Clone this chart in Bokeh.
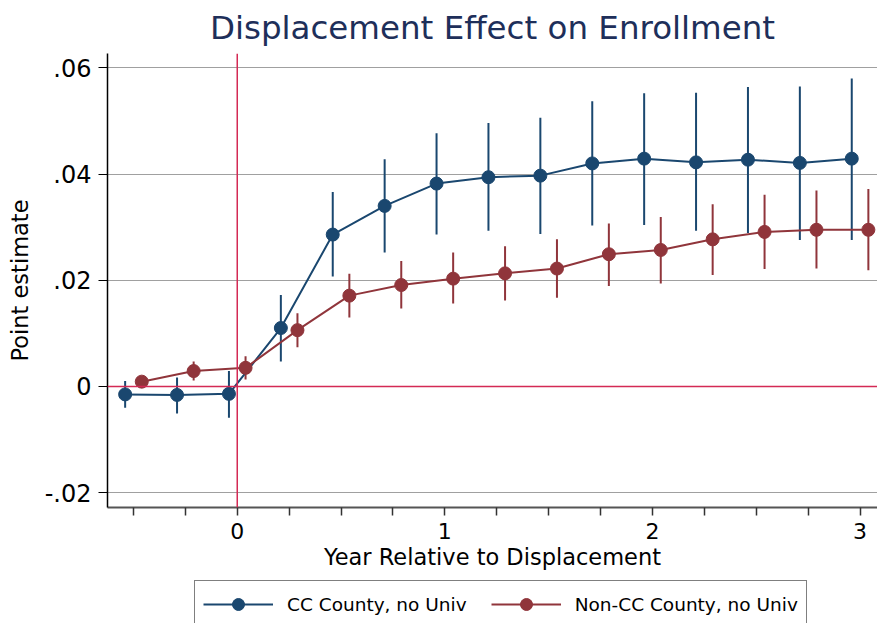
from bokeh.plotting import figure
from bokeh.layouts import column
from bokeh.models import Range1d, FixedTicker, Span, Legend, LegendItem
from bokeh.embed import file_html
from bokeh.resources import INLINE

FONT = "DejaVu Sans"

# event time (years relative to displacement), one point per quarter, dodged
cc_x = [-0.54, -0.29, -0.04, 0.21, 0.46, 0.71, 0.96, 1.21, 1.46, 1.71, 1.96, 2.21, 2.46, 2.71, 2.96]
cc_est = [-0.0015, -0.0016, -0.0014, 0.0110, 0.0286, 0.0340, 0.0382, 0.0394, 0.0397,
          0.0420, 0.0429, 0.0422, 0.0427, 0.0421, 0.0429]
cc_lo = [-0.0040, -0.0051, -0.0059, 0.0047, 0.0207, 0.0252, 0.0286, 0.0293, 0.0287,
         0.0303, 0.0304, 0.0293, 0.0289, 0.0276, 0.0276]
cc_hi = [0.0010, 0.0017, 0.0029, 0.0172, 0.0366, 0.0428, 0.0477, 0.0496, 0.0506,
         0.0537, 0.0552, 0.0553, 0.0564, 0.0565, 0.0580]

noncc_x = [-0.46, -0.21, 0.04, 0.29, 0.54, 0.79, 1.04, 1.29, 1.54, 1.79, 2.04, 2.29, 2.54, 2.79, 3.04]
noncc_est = [0.0009, 0.0029, 0.0035, 0.0106, 0.0171, 0.0191, 0.0203, 0.0213, 0.0222,
             0.0249, 0.0257, 0.0277, 0.0291, 0.0295, 0.0295]
noncc_lo = [0.0004, 0.0011, 0.0013, 0.0074, 0.0130, 0.0147, 0.0156, 0.0162, 0.0167,
            0.0189, 0.0194, 0.0210, 0.0221, 0.0222, 0.0219]
noncc_hi = [0.0014, 0.0047, 0.0057, 0.0138, 0.0212, 0.0236, 0.0252, 0.0264, 0.0277,
            0.0307, 0.0319, 0.0343, 0.0361, 0.0369, 0.0372]

y_ticks = [-0.02, 0, 0.02, 0.04, 0.06]
y_labels = ["-.02", "0", ".02", ".04", ".06"]
x_ticks = [0, 1, 2, 3]
x_minor = [-0.5, -0.25, 0.25, 0.5, 0.75, 1.25, 1.5, 1.75, 2.25, 2.5, 2.75]

BLUE = "#1a476f"
RED = "#90353b"
REF = "#d42a55"

p = figure(width=877, height=578, output_backend="svg", toolbar_location=None,
           x_range=Range1d(-0.625, 3.084), y_range=Range1d(-0.0228, 0.0627),
           min_border_left=107, min_border_right=0, min_border_top=51, min_border_bottom=71)
p.outline_line_color = None
p.background_fill_color = "white"
p.border_fill_color = "white"

p.title.text = "Displacement Effect on Enrollment"
p.title.align = "center"
p.title.text_font = FONT
p.title.text_font_size = "32.5px"
p.title.text_font_style = "normal"
p.title.text_color = "#1e2f5a"
p.title.standoff = 13
p.title.offset = 4

# axes
p.yaxis.ticker = FixedTicker(ticks=y_ticks)
p.yaxis.major_label_overrides = {t: l for t, l in zip(y_ticks, y_labels)}
p.yaxis.minor_tick_line_color = None
p.yaxis.major_tick_out = 9
p.yaxis.major_tick_in = 0
p.yaxis.major_label_standoff = 7
p.yaxis.major_label_text_font = FONT
p.yaxis.major_label_text_font_size = "24px"
p.yaxis.major_label_text_color = "black"
p.yaxis.axis_line_color = "black"
p.yaxis.axis_line_width = 1.5
p.yaxis.major_tick_line_color = "black"
p.yaxis.axis_label = "Point estimate"
p.yaxis.axis_label_text_font = FONT
p.yaxis.axis_label_text_font_style = "normal"
p.yaxis.axis_label_text_font_size = "22.5px"
p.yaxis.axis_label_text_color = "black"
p.yaxis.axis_label_standoff = 9

p.xaxis.ticker = FixedTicker(ticks=x_ticks, minor_ticks=x_minor)
p.xaxis.major_tick_out = 8
p.xaxis.major_tick_in = 0
p.xaxis.minor_tick_out = 8
p.xaxis.minor_tick_in = 0
p.xaxis.axis_line_color = "#555555"
p.xaxis.axis_line_width = 2
p.xaxis.major_tick_line_color = "#333333"
p.xaxis.minor_tick_line_color = "#333333"
p.xaxis.major_tick_line_width = 1.5
p.xaxis.minor_tick_line_width = 1.5
p.xaxis.major_label_standoff = 7
p.xaxis.major_label_text_font = FONT
p.xaxis.major_label_text_font_size = "22px"
p.xaxis.major_label_text_color = "black"
p.xaxis.axis_label = "Year Relative to Displacement"
p.xaxis.axis_label_text_font = FONT
p.xaxis.axis_label_text_font_style = "normal"
p.xaxis.axis_label_text_font_size = "22.5px"
p.xaxis.axis_label_text_color = "black"
p.xaxis.axis_label_standoff = 2

p.xgrid.grid_line_color = None
p.ygrid.ticker = FixedTicker(ticks=y_ticks)
p.ygrid.grid_line_color = "#a0a0a0"
p.ygrid.grid_line_width = 1

# reference lines
p.add_layout(Span(location=0, dimension="width", line_color=REF, line_width=1.5))
p.add_layout(Span(location=0, dimension="height", line_color=REF, line_width=1.5))

# CI spikes, lines and markers
p.segment(x0=cc_x, y0=cc_lo, x1=cc_x, y1=cc_hi, line_color=BLUE, line_width=2)
p.segment(x0=noncc_x, y0=noncc_lo, x1=noncc_x, y1=noncc_hi, line_color=RED, line_width=2)
p.line(cc_x, cc_est, line_color=BLUE, line_width=2)
p.scatter(cc_x, cc_est, size=13, fill_color=BLUE, line_color=BLUE)
p.line(noncc_x, noncc_est, line_color=RED, line_width=2)
p.scatter(noncc_x, noncc_est, size=13, fill_color=RED, line_color=RED)

# legend strip below the chart (cut at the bottom edge like the original)
# the key renderers hold the series but the ranges keep them out of view
lg = figure(width=877, height=45, output_backend="svg", toolbar_location=None,
            x_axis_location=None, y_axis_location=None,
            x_range=Range1d(10, 11), y_range=Range1d(10, 11),
            min_border_left=0, min_border_right=0, min_border_top=0, min_border_bottom=0)
lg.outline_line_color = None
lg.xgrid.visible = False
lg.ygrid.visible = False
kl1 = lg.line(cc_x, cc_est, line_color=BLUE, line_width=2)
ks1 = lg.scatter(cc_x, cc_est, size=13, fill_color=BLUE, line_color=BLUE)
kl2 = lg.line(noncc_x, noncc_est, line_color=RED, line_width=2)
ks2 = lg.scatter(noncc_x, noncc_est, size=13, fill_color=RED, line_color=RED)

legend = Legend(items=[LegendItem(label="CC County, no Univ", renderers=[kl1, ks1]),
                       LegendItem(label="Non-CC County, no Univ", renderers=[kl2, ks2])],
                location=(87, -5), orientation="horizontal",
                label_text_font=FONT, label_text_font_size="18.5px", label_text_color="black",
                glyph_width=70, glyph_height=30, label_height=30, label_standoff=14,
                spacing=24, padding=8, margin=0,
                border_line_color="black", border_line_width=1.5,
                background_fill_color="white", background_fill_alpha=1)
lg.add_layout(legend, "center")

layout = column(p, lg, spacing=0)
open("out.html", "w").write(file_html(layout, INLINE))
